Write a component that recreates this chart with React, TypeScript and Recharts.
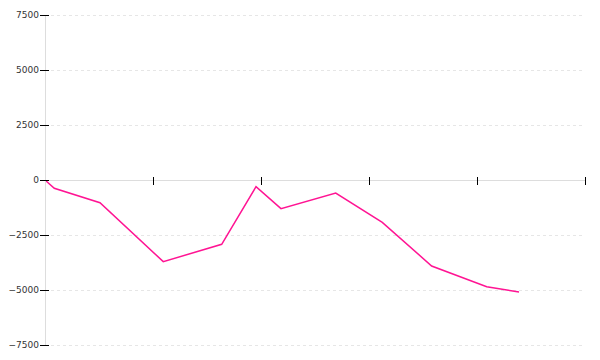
import React from "react";
import {
  LineChart,
  Line,
  XAxis,
  YAxis,
  CartesianGrid,
  ReferenceLine,
} from "recharts";

const xValues = [0, 8.6, 50.9, 109.5, 163.6, 195.4, 218.5, 269.2, 312.3, 358, 409, 438.9];
const yValues = [0, -377, -1030, -3712, -2924, -303, -1303, -591, -1924, -3909, -4848, -5091];
const xTicks = [0, 100, 200, 300, 400, 500];
const yTicks = [-7500, -5000, -2500, 0, 2500, 5000, 7500];

const data = xValues.map((x, i) => ({ x, value: yValues[i] }));

const fmt = (v: number) => String(v).replace("-", "\u2212");

function YTick(props: any) {
  const { x, y, payload } = props;
  return (
    <g>
      <line
        x1={x + 1}
        x2={x + 10}
        y1={y}
        y2={y}
        stroke="#000"
        shapeRendering="crispEdges"
      />
      <text
        x={x}
        y={y}
        dy="0.355em"
        textAnchor="end"
        fill="#333"
        fontSize={9}
        fontFamily="DejaVu Sans"
      >
        {fmt(payload.value)}
      </text>
    </g>
  );
}

export default function App() {
  return (
    <div style={{ position: "absolute", left: 0, top: 0, background: "#fff" }}>
      <LineChart
        width={600}
        height={360}
        data={data}
        margin={{ top: 15, right: 15, bottom: 15, left: 0 }}
      >
        <CartesianGrid
          vertical={false}
          stroke="#e6e6e6"
          strokeDasharray="3 3"
          shapeRendering="crispEdges"
        />
        <XAxis dataKey="x" type="number" domain={[0, 500]} ticks={xTicks} hide />
        <YAxis
          type="number"
          domain={[-7500, 7500]}
          ticks={yTicks}
          width={45}
          axisLine={{ stroke: "#dddddd", shapeRendering: "crispEdges" }}
          tickLine={false}
          tickSize={5}
          tickMargin={1}
          tick={<YTick />}
          interval={0}
        />
        <ReferenceLine y={0} stroke="#dddddd" shapeRendering="crispEdges" />
        {xTicks.map((t) => (
          <ReferenceLine
            key={t}
            segment={[
              { x: t, y: 136 },
              { x: t, y: -227 },
            ]}
            stroke="#000"
            shapeRendering="crispEdges"
          />
        ))}
        <Line
          type="linear"
          dataKey="value"
          stroke="#ff1493"
          strokeWidth={1.5}
          dot={false}
          isAnimationActive={false}
        />
      </LineChart>
    </div>
  );
}
